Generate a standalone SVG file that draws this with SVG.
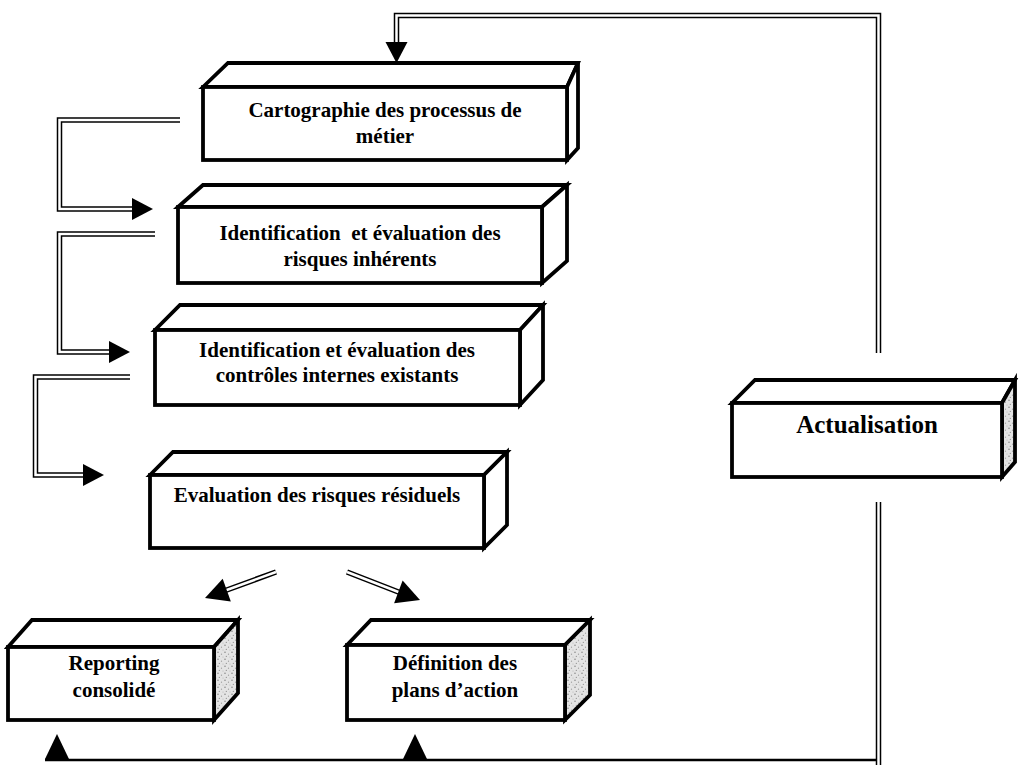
<svg xmlns="http://www.w3.org/2000/svg" xmlns:xlink="http://www.w3.org/1999/xlink" width="1019" height="765" viewBox="0 0 1019 765">
  <style>
    .face { fill: #ffffff; stroke: #000000; stroke-width: 3.8; stroke-linejoin: miter; }
    .shade { fill: url(#speck); stroke: #000000; stroke-width: 3.8; stroke-linejoin: miter; }
    .lbl { font-family: "Liberation Serif", "Times New Roman", serif; font-weight: bold; font-size: 21px; fill: #000000; text-anchor: middle; }
    .big { font-size: 25px; }
    .dbl-out { fill: none; stroke: #000000; stroke-width: 5.5; stroke-linejoin: miter; }
    .dbl-in { fill: none; stroke: #ffffff; stroke-width: 2.5; stroke-linejoin: miter; }
    .single { fill: none; stroke: #000000; stroke-width: 2.5; }
    .head { fill: #000000; }
  </style>
  <defs>
    <!-- light grey stipple used on the shaded side faces -->
    <pattern id="speck" width="7" height="7" patternUnits="userSpaceOnUse">
      <rect width="7" height="7" fill="#e4e4e4"/>
      <circle cx="1" cy="1.2" r="0.7" fill="#7a7a7a"/>
      <circle cx="4.5" cy="3.2" r="0.6" fill="#9a9a9a"/>
      <circle cx="2.3" cy="5.4" r="0.55" fill="#8a8a8a"/>
      <circle cx="6" cy="6" r="0.5" fill="#b0b0b0"/>
    </pattern>
    <!-- filled arrowhead, tip at the origin, pointing along +x -->
    <path id="arrowhead" d="M0,0 L-21,-11 L-21,11 Z"/>
  </defs>

  <rect width="1019" height="765" fill="#ffffff"/>

  <!-- connectors -->
  <g id="connectors">
    <!-- feedback loop: Actualisation back up to the first step -->
    <polyline class="dbl-out" points="878.5,353 878.5,15.5 396.5,15.5 396.5,44"/>
    <polyline class="dbl-in" points="878.5,353 878.5,15.5 396.5,15.5 396.5,44"/>
    <use href="#arrowhead" class="head" transform="translate(396.5,63) rotate(90)"/>

    <polyline class="dbl-out" points="878.5,502 878.5,765"/>
    <polyline class="dbl-in" points="878.5,502 878.5,765"/>
    <line class="single" x1="45" y1="760" x2="877" y2="760"/>
    <use href="#arrowhead" class="head" transform="translate(57,734) rotate(-90) scale(1.2,1.1)"/>
    <use href="#arrowhead" class="head" transform="translate(415,734) rotate(-90) scale(1.2,1.1)"/>

    <!-- step 1 to step 2 -->
    <polyline class="dbl-out" points="180,120 59.5,120 59.5,209 134,209"/>
    <polyline class="dbl-in" points="180,120 59.5,120 59.5,209 134,209"/>
    <use href="#arrowhead" class="head" transform="translate(153,209)"/>

    <!-- step 2 to step 3 -->
    <polyline class="dbl-out" points="155,234 59.5,234 59.5,352 111,352"/>
    <polyline class="dbl-in" points="155,234 59.5,234 59.5,352 111,352"/>
    <use href="#arrowhead" class="head" transform="translate(130,352)"/>

    <!-- step 3 to step 4 -->
    <polyline class="dbl-out" points="130,377 35.5,377 35.5,475 85,475"/>
    <polyline class="dbl-in" points="130,377 35.5,377 35.5,475 85,475"/>
    <use href="#arrowhead" class="head" transform="translate(104,475)"/>

    <!-- split to the two outputs -->
    <line class="dbl-out" x1="276" y1="572" x2="224" y2="591"/>
    <line class="dbl-in" x1="276" y1="572" x2="224" y2="591"/>
    <use href="#arrowhead" class="head" transform="translate(205,598) rotate(160.3) scale(1.1)"/>

    <line class="dbl-out" x1="347" y1="572" x2="401" y2="593"/>
    <line class="dbl-in" x1="347" y1="572" x2="401" y2="593"/>
    <use href="#arrowhead" class="head" transform="translate(420,600) rotate(20.6) scale(1.1)"/>
  </g>

  <!-- step 1 -->
  <g id="cartographie">
    <polygon class="face" points="203,87 228,63 578,63 567,87"/>
    <polygon class="face" points="567,87 578,63 578,148 567,160"/>
    <rect class="face" x="203" y="87" width="364" height="73"/>
    <text class="lbl" x="385" y="117">Cartographie des processus de</text>
    <text class="lbl" x="385" y="143">métier</text>
  </g>

  <!-- step 2 -->
  <g id="risques-inherents">
    <polygon class="face" points="178,207 203,185 567,185 542,207"/>
    <polygon class="face" points="542,207 567,185 567,261 542,283"/>
    <rect class="face" x="178" y="207" width="364" height="76"/>
    <text class="lbl" x="360" y="240" xml:space="preserve">Identification  et évaluation des</text>
    <text class="lbl" x="360" y="266">risques inhérents</text>
  </g>

  <!-- step 3 -->
  <g id="controles-internes">
    <polygon class="face" points="155,330 180,305 543,305 520,330"/>
    <polygon class="face" points="520,330 543,305 543,380 520,405"/>
    <rect class="face" x="155" y="330" width="365" height="75"/>
    <text class="lbl" x="337" y="357">Identification et évaluation des</text>
    <text class="lbl" x="337" y="382">contrôles internes existants</text>
  </g>

  <!-- step 4 -->
  <g id="risques-residuels">
    <polygon class="face" points="150,475 173,452 507,452 484,475"/>
    <polygon class="face" points="484,475 507,452 507,525 484,548"/>
    <rect class="face" x="150" y="475" width="334" height="73"/>
    <text class="lbl" x="317" y="502">Evaluation des risques résiduels</text>
  </g>

  <!-- output: consolidated reporting -->
  <g id="reporting">
    <polygon class="face" points="8,647 32,620 238,620 214,647"/>
    <polygon class="shade" points="214,647 238,620 238,693 214,720"/>
    <rect class="face" x="8" y="647" width="206" height="73"/>
    <text class="lbl" x="114" y="670">Reporting</text>
    <text class="lbl" x="114" y="697">consolidé</text>
  </g>

  <!-- output: action plans -->
  <g id="plans-action">
    <polygon class="face" points="347,645 371,620 590,620 565,645"/>
    <polygon class="shade" points="565,645 590,620 590,695 565,720"/>
    <rect class="face" x="347" y="645" width="218" height="75"/>
    <text class="lbl" x="455" y="670">Définition des</text>
    <text class="lbl" x="455" y="697">plans d’action</text>
  </g>

  <!-- update loop -->
  <g id="actualisation">
    <polygon class="face" points="732,403 755,380 1015,380 1002,403"/>
    <polygon class="shade" points="1002,403 1015,380 1015,462 1002,477"/>
    <rect class="face" x="732" y="403" width="270" height="74"/>
    <text class="lbl big" x="867" y="433">Actualisation</text>
  </g>
</svg>
